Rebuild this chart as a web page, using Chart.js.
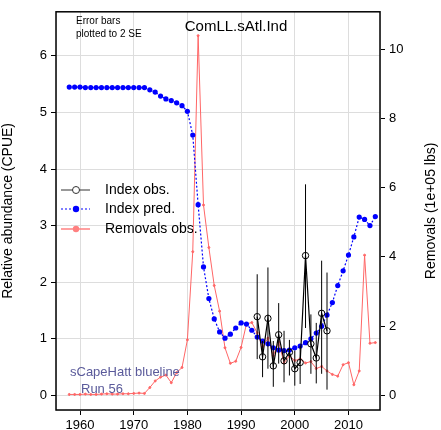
<!DOCTYPE html>
<html><head><meta charset="utf-8">
<script src="https://cdn.jsdelivr.net/npm/chart.js@4/dist/chart.umd.min.js"></script>
<style>body{margin:0;background:#fff}#wrap{width:441px;height:430px}</style>
</head><body><div id="wrap"><canvas id="c"></canvas></div>
<script>
let predYears = [];
for (let y = 1958; y <= 2015; y++) predYears.push(y);
let predValues = [5.45,5.45,5.45,5.44,5.44,5.44,5.44,5.44,5.44,5.44,5.44,5.44,5.44,5.44,5.44,
  5.40,5.36,5.29,5.24,5.21,5.17,5.12,5.02,4.6,3.37,2.27,1.71,1.35,1.12,1.01,1.08,1.19,1.28,1.26,1.15,
  1.03,0.96,0.91,0.84,0.80,0.79,0.80,0.84,0.87,0.93,1.0,1.10,1.22,1.42,1.64,1.94,2.2,2.48,2.8,3.15,3.11,3.0,3.16];
let removals = [0.02,0.02,0.02,0.03,0.02,0.02,0.03,0.04,0.03,0.03,0.04,0.04,0.05,0.06,0.05,
  0.22,0.41,0.52,0.58,0.36,0.65,0.8,1.6,4.15,10.4,5.5,4.27,3.17,2.43,1.37,0.92,0.98,1.38,2.06,2.1,
  1.8,1.4,1.65,1.14,1.54,0.93,1.14,1.0,1.05,0.93,0.97,0.77,0.83,0.7,0.6,0.55,0.88,0.94,0.3,0.7,4.05,1.5,1.52];
let obsYears = [1993,1994,1995,1996,1997,1998,1999,2000,2001,2002,2003,2004,2005,2006];
let obsValues = [1.39,0.68,1.36,0.52,1.07,0.61,0.76,0.47,0.58,2.47,0.91,0.66,1.45,1.14];
let obsUpper = [2.14,0.96,2.26,0.96,1.63,1.14,0.98,0.79,0.87,3.73,1.43,1.28,2.38,2.17];
let obsLower = [0.64,0.32,0.47,0.15,0.56,0.23,0.35,0.17,0.2,1.19,0.38,0.21,0.38,0.1];

const xy = (xs, ys) => xs.map((x, i) => ({x: x, y: ys[i]}));

const errorBars = {
  id: 'errorBars',
  afterDatasetsDraw(chart) {
    const c = chart.ctx, sx = chart.scales.x, sy = chart.scales.y;
    c.save(); c.strokeStyle = '#000'; c.lineWidth = 1;
    obsYears.forEach((yr, i) => {
      const px = sx.getPixelForValue(yr);
      c.beginPath(); c.moveTo(px, sy.getPixelForValue(obsLower[i])); c.lineTo(px, sy.getPixelForValue(obsUpper[i])); c.stroke();
    });
    c.restore();
  }
};

const annotations = {
  id: 'annotations',
  afterDraw(chart) {
    const c = chart.ctx, a = chart.chartArea;
    c.save();
    c.strokeStyle = '#000'; c.lineWidth = 1.5;
    c.strokeRect(a.left, a.top, a.right - a.left, a.bottom - a.top);
    c.fillStyle = '#000'; c.textBaseline = 'middle';
    c.font = '10px "Liberation Sans", Arial';
    c.fillText('Error bars', 76, 21); c.fillText('plotted to 2 SE', 76, 34);
    c.font = '15px "Liberation Sans", Arial'; c.textAlign = 'center';
    c.fillText('ComLL.sAtl.Ind', 236, 27);
    // right axis title, reading bottom to top
    c.save(); c.translate(431, (a.top + a.bottom) / 2); c.rotate(-Math.PI / 2);
    c.font = '14px "Liberation Sans", Arial'; c.fillText('Removals (1e+05 lbs)', 0, 0); c.restore();
    c.textAlign = 'left';
    c.font = '13px "Liberation Sans", Arial'; c.fillStyle = '#5a5a9a';
    c.fillText('sCapeHatt blueline', 70, 372); c.fillText('Run 56', 81, 389);
    // legend
    c.font = '14px "Liberation Sans", Arial'; c.fillStyle = '#000';
    const rows = [['Index obs.', 190], ['Index pred.', 209], ['Removals obs.', 229]];
    rows.forEach(r => c.fillText(r[0], 105, r[1]));
    c.lineWidth = 1;
    c.strokeStyle = '#333'; c.beginPath(); c.moveTo(61, 190); c.lineTo(90, 190); c.stroke();
    c.fillStyle = '#fff'; c.beginPath(); c.arc(76, 190, 3.5, 0, 7); c.fill(); c.stroke();
    c.strokeStyle = '#0000ff'; c.setLineDash([2, 2]); c.beginPath(); c.moveTo(61, 209); c.lineTo(90, 209); c.stroke(); c.setLineDash([]);
    c.fillStyle = '#0000ff'; c.beginPath(); c.arc(76, 209, 3.2, 0, 7); c.fill();
    c.strokeStyle = '#ff8080'; c.lineWidth = 1.5; c.beginPath(); c.moveTo(61, 229); c.lineTo(90, 229); c.stroke();
    c.fillStyle = '#ff8080'; c.beginPath(); c.arc(76, 229, 3.2, 0, 7); c.fill();
    c.restore();
  }
};

const tickFont = {size: 13, family: 'Liberation Sans'};

new Chart(document.getElementById('c'), {
  type: 'line',
  data: {
    datasets: [
      {data: xy(predYears, removals), yAxisID: 'y2', borderColor: '#ff6666', backgroundColor: '#ff6666',
        borderWidth: 1, pointRadius: 1, order: 3},
      {data: xy(predYears, predValues), yAxisID: 'y', borderColor: '#0000ff', backgroundColor: '#0000ff',
        borderWidth: 1.2, borderDash: [2, 2], pointRadius: 2.6, pointBorderWidth: 0, order: 2},
      {data: xy(obsYears, obsValues), yAxisID: 'y', borderColor: '#000', backgroundColor: 'rgba(255,255,255,0)',
        borderWidth: 1.2, pointRadius: 3.2, pointBorderWidth: 1, order: 1}
    ]
  },
  options: {
    responsive: true, maintainAspectRatio: false, animation: false,
    layout: {padding: {top: 6, left: 0, right: 0, bottom: 0}},
    plugins: {legend: {display: false}, tooltip: {enabled: false}},
    scales: {
      x: {type: 'linear', min: 1955.53, max: 2015.87,
        afterBuildTicks: s => { s.ticks = [1960,1970,1980,1990,2000,2010].map(v => ({value: v})); },
        ticks: {color: '#000', font: tickFont, maxRotation: 0, padding: 3, callback: v => String(v)},
        grid: {color: '#dddddd', tickColor: '#000', tickLength: 5},
        afterFit: s => { s.height = 20; }},
      y: {position: 'left', min: -0.26, max: 6.78,
        afterBuildTicks: s => { s.ticks = [0,1,2,3,4,5,6].map(v => ({value: v})); },
        ticks: {color: '#000', font: tickFont, padding: 4},
        grid: {color: '#dddddd', tickColor: '#000', tickLength: 5},
        title: {display: true, text: 'Relative abundance (CPUE)', color: '#000', font: {size: 14, family: 'Liberation Sans'}, padding: 0},
        afterFit: s => { s.width = 56; }},
      y2: {position: 'right', min: -0.43, max: 11.09,
        afterBuildTicks: s => { s.ticks = [0,2,4,6,8,10].map(v => ({value: v})); },
        ticks: {color: '#000', font: tickFont, padding: 4},
        grid: {drawOnChartArea: false, tickColor: '#000', tickLength: 5},
        afterFit: s => { s.width = 61; }}
    }
  },
  plugins: [errorBars, annotations]
});
</script></body></html>
